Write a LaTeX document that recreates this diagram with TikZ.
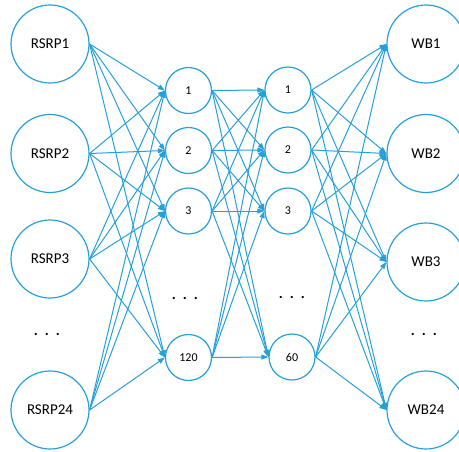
\documentclass[tikz,border=0pt]{standalone}
\usepackage{fontspec}
\setmainfont{Carlito}
\usetikzlibrary{arrows.meta}
\definecolor{netblue}{RGB}{38,160,218}
\tikzset{
  bignode/.style={circle, draw=netblue, line width=1.2pt, minimum size=78pt, inner sep=0pt, font=\fontsize{15}{16}\selectfont},
  smallnode/.style={circle, draw=netblue, line width=1.2pt, minimum size=46pt, inner sep=0pt, font=\fontsize{12}{13}\selectfont},
  dotsnode/.style={inner sep=0pt, font=\bfseries\fontsize{15}{16}\selectfont},
  conn/.style={draw=netblue, line width=1pt, -{Triangle[length=7pt,width=5pt]}}
}
\newcommand{\dotsthree}{.\hspace{7pt}.\hspace{7pt}.}
\begin{document}
\begin{tikzpicture}[x=1pt,y=-1pt]
\useasboundingbox (0,0) rectangle (459,451);
% input layer
\node[bignode] (i1) at (50,44) {RSRP1};
\node[bignode] (i2) at (50,153.5) {RSRP2};
\node[bignode] (i3) at (50,259) {RSRP3};
\node[dotsnode] (idots) at (47,334) {\dotsthree};
\node[bignode] (i4) at (50,410) {RSRP24};
% hidden 1
\node[smallnode] (a1) at (188.5,90.5) {1};
\node[smallnode] (a2) at (188.5,150.5) {2};
\node[smallnode] (a3) at (188.5,211) {3};
\node[dotsnode] (adots) at (185,298) {\dotsthree};
\node[smallnode] (a4) at (188.5,357.5) {120};
% hidden 2
\node[smallnode] (b1) at (288,90) {1};
\node[smallnode] (b2) at (288,150) {2};
\node[smallnode] (b3) at (288,211) {3};
\node[dotsnode] (bdots) at (292,297) {\dotsthree};
\node[smallnode] (b4) at (292,357) {60};
% output
\node[bignode] (o1) at (426,44) {WB1};
\node[bignode] (o2) at (426,153.5) {WB2};
\node[bignode] (o3) at (426,262) {WB3};
\node[dotsnode] (odots) at (424,334) {\dotsthree};
\node[bignode] (o4) at (426,410) {WB24};
% connections
\foreach \s in {1,...,4}{
  \foreach \t in {1,...,4}{
    \draw[conn] (i\s.east) -- (a\t.west);
    \draw[conn] (a\s.east) -- (b\t.west);
    \draw[conn] (b\s.east) -- (o\t.west);
  }
}
\end{tikzpicture}
\end{document}
